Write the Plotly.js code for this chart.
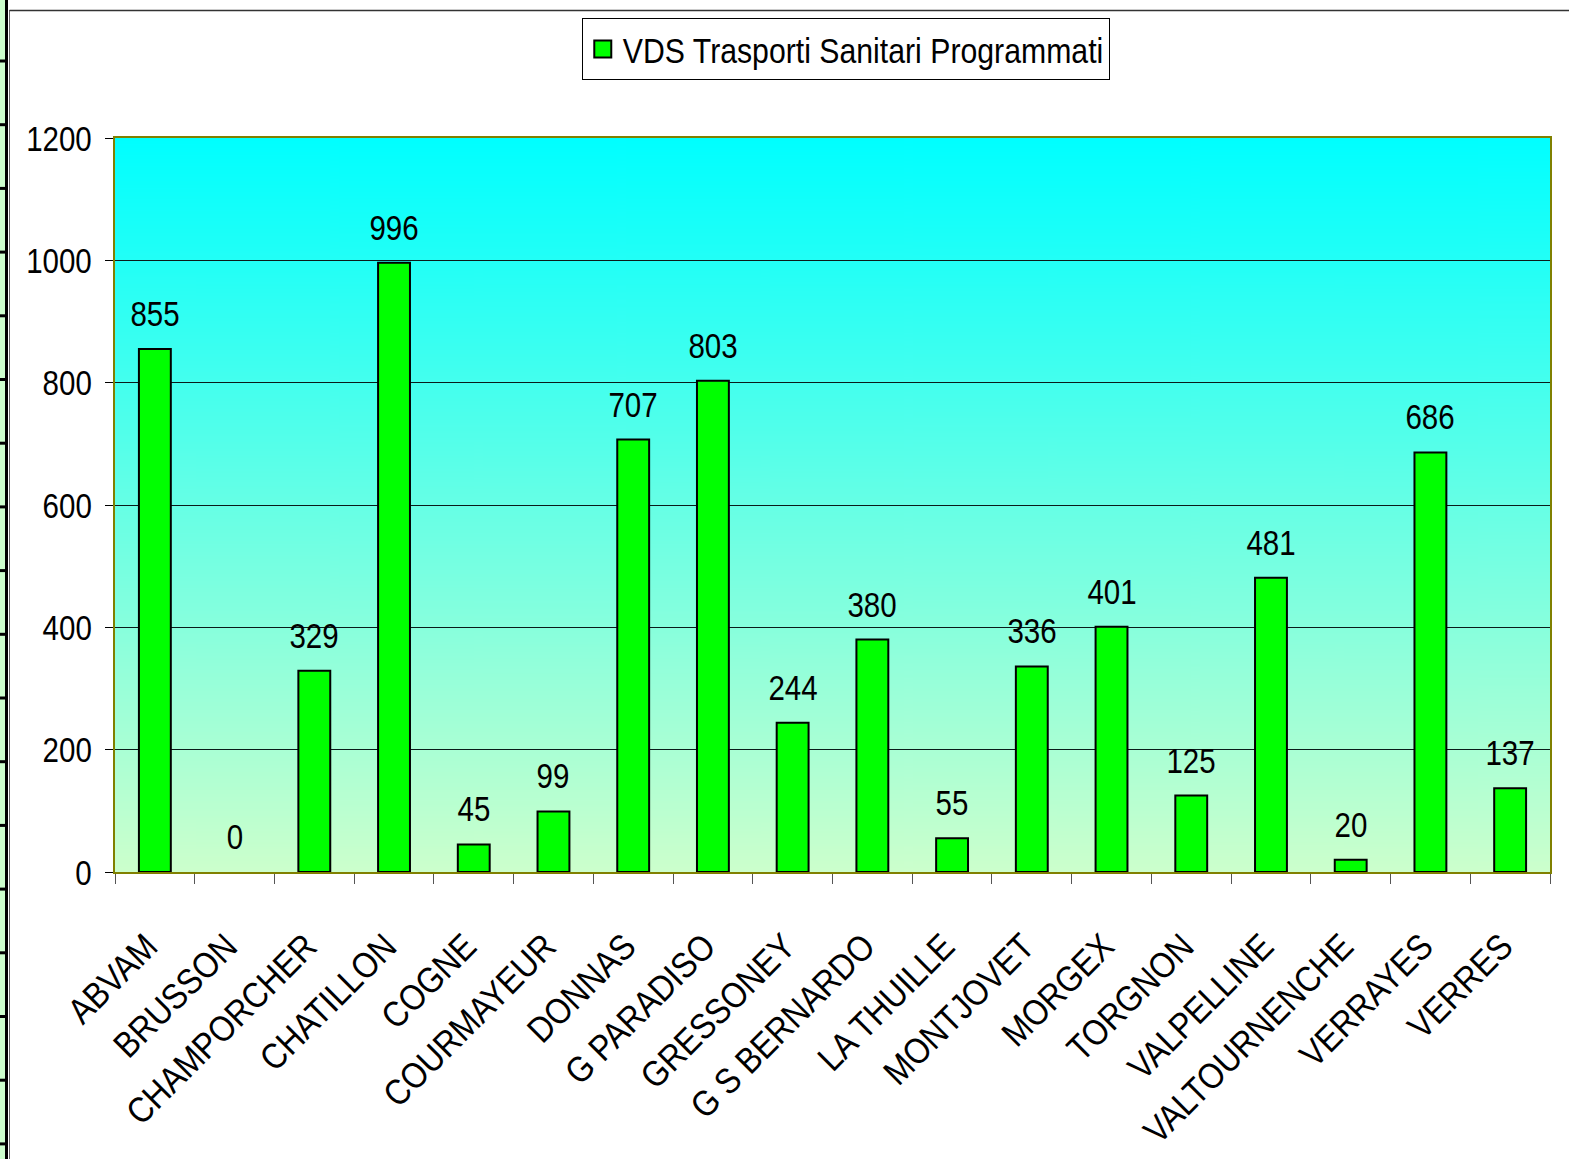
<!DOCTYPE html>
<html>
<head>
<meta charset="utf-8">
<script src="https://cdn.plot.ly/plotly-3.0.1.min.js"></script>
<style>html,body{margin:0;padding:0;background:#fff;}#chart{width:1569px;height:1159px;}</style>
</head>
<body>
<div id="chart"></div>
<script>
const categories = ["ABVAM","BRUSSON","CHAMPORCHER","CHATILLON","COGNE","COURMAYEUR","DONNAS","G PARADISO","GRESSONEY","G S BERNARDO","LA THUILLE","MONTJOVET","MORGEX","TORGNON","VALPELLINE","VALTOURNENCHE","VERRAYES","VERRES"];
const values = [855,0,329,996,45,99,707,803,244,380,55,336,401,125,481,20,686,137];
const seriesName = "VDS Trasporti Sanitari Programmati";
const yTicks = [0,200,400,600,800,1000,1200];

const W = 1569, H = 1159;
const L = 115, R = 1550, T = 138, B = 872;
const FONT = '"Liberation Sans", Arial, sans-serif';
const FS = 36;
const SX = 0.82;   // horizontal condensing of numbers
const SXL = 0.84;  // legend text
const SXX = 0.88;  // category labels

// gradient background image
const cv = document.createElement('canvas');
cv.width = 10; cv.height = 400;
const ctx = cv.getContext('2d');
const g = ctx.createLinearGradient(0,0,0,400);
g.addColorStop(0,'#00FFFF');
g.addColorStop(1,'#CCFFCC');
ctx.fillStyle = g; ctx.fillRect(0,0,10,400);
const bg = cv.toDataURL();

const px = x => (x - L) / (R - L);
const py = y => (B - y) / (B - T);

const shapes = [
  {type:'rect', xref:'paper', yref:'paper', x0:px(0), x1:px(5), y0:py(H), y1:py(0), fillcolor:'#CCFFCC', line:{width:0}, layer:'below'},
  {type:'line', xref:'paper', yref:'paper', x0:px(6.5), x1:px(6.5), y0:py(H), y1:py(0), line:{color:'#000', width:3}},
  {type:'line', xref:'paper', yref:'paper', x0:px(9.5), x1:px(9.5), y0:py(H), y1:py(10), line:{color:'#666', width:1}},
  {type:'line', xref:'paper', yref:'paper', x0:px(9.5), x1:px(W), y0:py(10.5), y1:py(10.5), line:{color:'#333', width:1.5}}
];
for (let y = 61; y < H; y += 63.7) {
  shapes.push({type:'line', xref:'paper', yref:'paper', x0:px(0), x1:px(7), y0:py(y), y1:py(y), line:{color:'#000', width:3}});
}

const annotations = categories.map((c,i) => ({
  x: c, y: values[i], xref:'x', yref:'y', text: String(values[i]),
  showarrow:false, yanchor:'bottom', yshift:13,
  font:{family:FONT, size:FS, color:'#000'}
}));

const trace = {
  type:'bar', x: categories, y: values, name: seriesName,
  marker:{color:'#00FF00', line:{color:'#000', width:values.map(v => v === 0 ? 0 : 2)}},
  showlegend:true
};

const layout = {
  width:W, height:H,
  margin:{l:L, r:W-R, t:T, b:H-B},
  paper_bgcolor:'#fff', plot_bgcolor:'rgba(0,0,0,0)',
  bargap:0.6,
  font:{family:FONT, size:FS, color:'#000'},
  showlegend:true,
  legend:{x:px(846), xanchor:'center', y:py(18), yanchor:'top', orientation:'h',
    bordercolor:'#000', borderwidth:1, bgcolor:'#fff', font:{family:FONT, size:FS, color:'#000'}},
  xaxis:{type:'category', tickangle:-45, ticks:'outside', tickson:'boundaries', ticklen:10, tickcolor:'#555',
    showline:true, linecolor:'#808000', linewidth:2, mirror:true, showgrid:false,
    tickfont:{family:FONT, size:FS, color:'#000'}, ticklabelstandoff:30},
  yaxis:{range:[0,1200], tickvals:yTicks, ticktext:yTicks.map(String), ticks:'outside', ticklen:8, tickcolor:'#000',
    showline:true, linecolor:'#808000', linewidth:2, mirror:true, showgrid:true, gridcolor:'#0a1a1a', gridwidth:1,
    zeroline:false, tickfont:{family:FONT, size:FS, color:'#000'}, ticklabelstandoff:6},
  images:[{source:bg, xref:'paper', yref:'paper', x:0, y:1, sizex:1, sizey:1, sizing:'stretch', layer:'below', xanchor:'left', yanchor:'top'}],
  shapes: shapes,
  annotations: annotations
};

function condense(t, s, pre) {
  const x = parseFloat(t.getAttribute('x')) || 0;
  const y = parseFloat(t.getAttribute('y')) || 0;
  const tr = t.getAttribute('transform') || '';
  t.setAttribute('transform', (pre || '') + ' ' + tr + ' translate(' + x + ',' + y + ') scale(' + s + ',1) translate(' + (-x) + ',' + (-y) + ')');
}

const gd = document.getElementById('chart');
Plotly.newPlot(gd, [trace], layout, {displayModeBar:false, staticPlot:true}).then(() => {
  gd.querySelectorAll('svg.main-svg text').forEach(t => {
    if (t.classList.contains('legendtext')) return;
    if (t.closest('.xtick')) { condense(t, SXX, 'translate(-8,7)'); return; }
    condense(t, SX);
  });
  const leg = gd.querySelector('g.legend');
  if (leg) {
    const txt = leg.querySelector('text.legendtext');
    const rect = leg.querySelector('rect.bg');
    const tw = txt.getComputedTextLength();
    condense(txt, SXL);
    const dw = tw * (1 - SXL);
    const w = parseFloat(rect.getAttribute('width'));
    rect.setAttribute('width', w - dw);
    const m = /translate\(([-\d.]+)[ ,]+([-\d.]+)\)/.exec(leg.getAttribute('transform'));
    if (m) leg.setAttribute('transform', 'translate(' + (parseFloat(m[1]) + dw / 2) + ',' + m[2] + ')');
    leg.querySelectorAll('.legendpoints path').forEach(p => {
      p.setAttribute('d', 'M8.5,8.5H-8.5V-8.5H8.5Z');
      p.style.strokeWidth = '2px';
    });
  }
});
</script>
</body>
</html>
